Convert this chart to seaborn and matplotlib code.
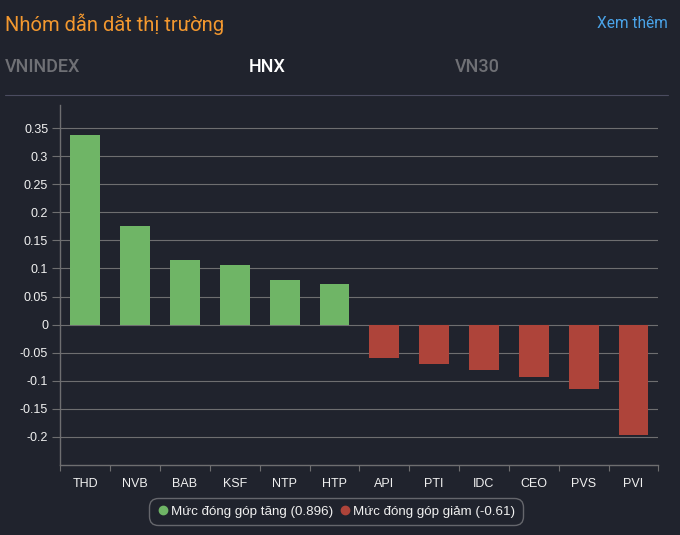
import pandas as pd
import matplotlib.pyplot as plt
from matplotlib.lines import Line2D
import seaborn as sns

tickers = ['THD', 'NVB', 'BAB', 'KSF', 'NTP', 'HTP', 'API', 'PTI', 'IDC', 'CEO', 'PVS', 'PVI']
values = [0.3375, 0.176, 0.115, 0.107, 0.08, 0.072, -0.06, -0.07, -0.08, -0.094, -0.115, -0.197]
y_ticks = [0.35, 0.3, 0.25, 0.2, 0.15, 0.1, 0.05, 0, -0.05, -0.1, -0.15, -0.2]
y_labels = ['0.35', '0.3', '0.25', '0.2', '0.15', '0.1', '0.05', '0', '-0.05', '-0.1', '-0.15', '-0.2']
up_label = 'Mức đóng góp tăng (0.896)'
down_label = 'Mức đóng góp giảm (-0.61)'

BG = '#20232d'
GREEN = '#6fb566'
RED = '#ae443a'
GRID = '#6e6e70'
W, H = 680, 535
ROBOTO = ['Roboto', 'DejaVu Sans']

sns.set_theme(style='dark')
plt.rcParams['font.family'] = ['Liberation Sans', 'DejaVu Sans']

df = pd.DataFrame({'ticker': tickers, 'value': values})
df['side'] = ['up' if v > 0 else 'down' for v in df['value']]

fig = plt.figure(figsize=(W / 100, H / 100), dpi=100, facecolor=BG)
ax = fig.add_axes([60.4 / W, 1 - 465 / H, 598 / W, 360 / H], facecolor=BG)

sns.barplot(data=df, x='ticker', y='value', hue='side', dodge=False, width=0.6,
            palette={'up': GREEN, 'down': RED}, saturation=1, legend=False, ax=ax,
            zorder=3, linewidth=0)

ax.set_ylim(-0.25, 0.391)
ax.set_xlim(-0.5, len(tickers) - 0.5)
ax.set_xlabel('')
ax.set_ylabel('')
ax.set_yticks(y_ticks)
ax.set_yticklabels(y_labels)
ax.grid(axis='y', color=GRID, linewidth=0.8, zorder=0)
ax.grid(axis='x', visible=False)
ax.set_axisbelow(True)

# x ticks sit between the bars, labels stay centred
ax.set_xticks([i - 0.5 for i in range(len(tickers) + 1)], minor=True)
ax.tick_params(axis='x', which='minor', length=4, width=0.8, color=GRID, bottom=True)
ax.tick_params(axis='x', which='major', length=0, pad=9.5, labelsize=9, labelcolor='#f0f0f0')
ax.tick_params(axis='y', length=5.8, width=0.8, color=GRID, pad=3, left=True, labelsize=9, labelcolor='#f0f0f0')

for side in ['top', 'right']:
    ax.spines[side].set_visible(False)
for side in ['left', 'bottom']:
    ax.spines[side].set_color(GRID)
    ax.spines[side].set_linewidth(1)

fig.text(5 / W, 1 - 24 / H, 'Nhóm dẫn dắt thị trường', color='#f3982f', fontsize=14.5,
         family=ROBOTO, va='center', ha='left')
fig.text(668 / W, 1 - 24 / H, 'Xem thêm', color='#4aa3e8', fontsize=11.2,
         family=ROBOTO, va='center', ha='right')
fig.text(5 / W, 1 - 67 / H, 'VNINDEX', color='#6f7075', fontsize=13, fontweight='medium',
         family=ROBOTO, va='center', ha='left')
fig.text(267 / W, 1 - 67 / H, 'HNX', color='#ffffff', fontsize=13, fontweight='medium',
         family=ROBOTO, va='center', ha='center')
fig.text(477 / W, 1 - 67 / H, 'VN30', color='#6f7075', fontsize=13, fontweight='medium',
         family=ROBOTO, va='center', ha='center')
fig.add_artist(Line2D([5 / W, 668 / W], [1 - 94.5 / H, 1 - 94.5 / H], color='#4b4c60', linewidth=0.8))

handles = [Line2D([], [], marker='o', linestyle='', color=GREEN, markersize=6),
           Line2D([], [], marker='o', linestyle='', color=RED, markersize=6)]
leg = fig.legend(handles, [up_label, down_label], ncol=2, loc='center',
                 bbox_to_anchor=(336 / W, 1 - 511.5 / H), frameon=True, fontsize=9.6,
                 labelcolor='#f0f0f0', handletextpad=0.1, columnspacing=0.4,
                 borderpad=0.55, handlelength=1.0, fancybox=True)
leg.get_frame().set_facecolor(BG)
leg.get_frame().set_edgecolor('#77787c')
leg.get_frame().set_linewidth(1)
leg.get_frame().set_boxstyle('round', pad=0, rounding_size=0.7)

fig.savefig('out.png', dpi=100, facecolor=BG)
plt.close()
